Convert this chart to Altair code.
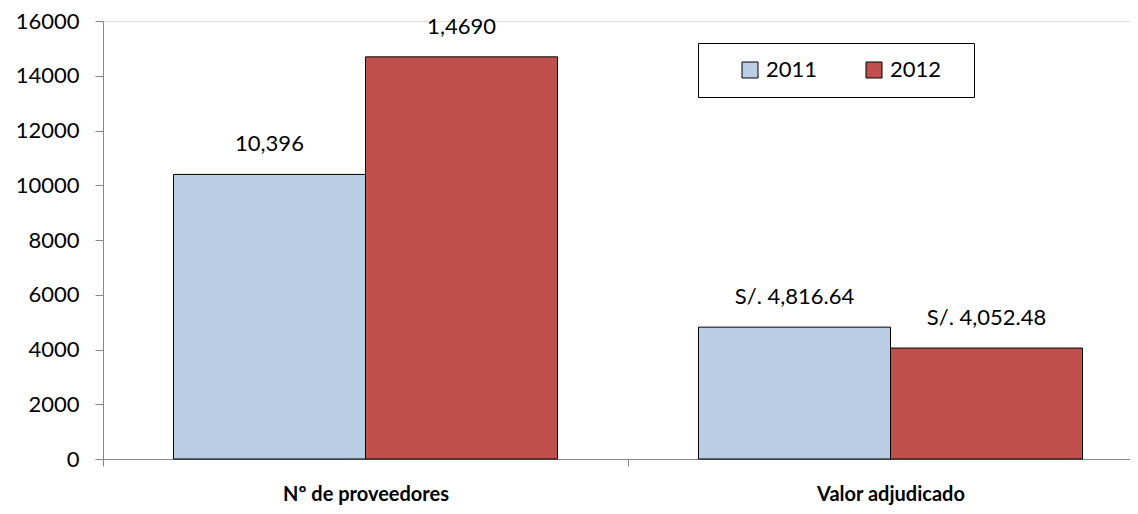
import altair as alt
import pandas as pd

categories = ["Nº de proveedores", "Valor adjudicado"]
years = ["2011", "2012"]
values_2011 = [10396, 4816.64]
values_2012 = [14690, 4052.48]
labels_2011 = ["10,396", "S/. 4,816.64"]
labels_2012 = ["1,4690", "S/. 4,052.48"]
y_ticks = [0, 2000, 4000, 6000, 8000, 10000, 12000, 14000, 16000]
colors = ["#B9CDE5", "#C0504D"]

rows = []
for i, c in enumerate(categories):
    rows.append({"cat": c, "year": "2011", "value": values_2011[i], "label": labels_2011[i]})
    rows.append({"cat": c, "year": "2012", "value": values_2012[i], "label": labels_2012[i]})
df = pd.DataFrame(rows)

FONT = "Lato"
PAD = "\u2800"  # blank filler (not trimmed) to widen legend box on the right

x_enc = alt.X(
    "cat:N",
    sort=categories,
    title=None,
    scale=alt.Scale(range=[0, 1050], paddingInner=0, paddingOuter=0),
    axis=alt.Axis(
        labelAngle=0,
        labelFont=FONT,
        labelFontSize=20,
        labelFontWeight="bold",
        labelColor="black",
        labelPadding=18,
        labelLimit=1000,
        tickBand="extent",
        tickSize=7,
        domainColor="#868686",
        tickColor="#868686",
    ),
)
xoff = alt.XOffset("year:N", sort=years, scale=alt.Scale(paddingInner=0, paddingOuter=0.367))

base = alt.Chart(df)

bars = base.mark_bar(stroke="black", strokeWidth=1).encode(
    x=x_enc,
    xOffset=xoff,
    y=alt.Y(
        "value:Q",
        title=None,
        scale=alt.Scale(domain=[0, 16000], nice=False),
        axis=alt.Axis(
            values=y_ticks,
            format="d",
            grid=False,
            labelFont=FONT,
            labelFontSize=22,
            labelColor="black",
            labelPadding=16,
            tickSize=8,
            domainColor="#868686",
            tickColor="#868686",
        ),
    ),
    fill=alt.Fill(
        "year:N",
        scale=alt.Scale(domain=years, range=colors),
        legend=alt.Legend(
            orient="none",
            legendX=595,
            legendY=22,
            direction="horizontal",
            title=" ",
            titleOrient="left",
            titlePadding=25,
            titleFontSize=10,
            strokeColor="black",
            fillColor="white",
            padding=16,
            labelFont=FONT,
            labelFontSize=22,
            labelColor="black",
            labelOffset=5,
            columnPadding=45,
            symbolType="square",
            symbolSize=256,
            symbolStrokeColor="black",
            symbolStrokeWidth=1,
            labelExpr="datum.label == '2012' ? datum.label + '" + PAD + "' : datum.label",
        ),
    ),
)

texts = base.mark_text(font=FONT, fontSize=22, color="black", baseline="middle", dy=-30).encode(
    x=alt.X("cat:N", sort=categories),
    xOffset=alt.XOffset("year:N", sort=years),
    y="value:Q",
    text="label:N",
)

chart = (
    alt.layer(bars, texts)
    .properties(
        width=1027,
        height=438,
        autosize=alt.AutoSizeParams(type="none"),
        padding={"left": 95, "top": 13, "right": 0, "bottom": 47},
    )
    .configure_view(stroke=None)
    .configure(background="white")
)

chart.save("out.html", embed_options={"renderer": "svg", "actions": False})
